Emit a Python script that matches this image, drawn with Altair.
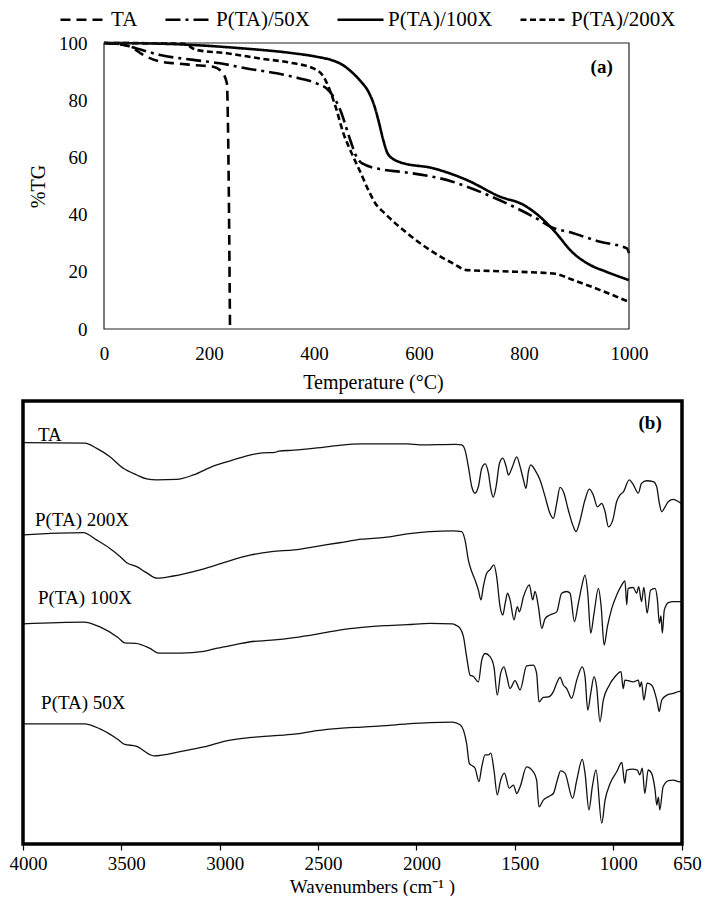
import altair as alt
import pandas as pd

# ---------------- Panel (a): TGA ----------------
series_a = ["TA", "P(TA)/50X", "P(TA)/100X", "P(TA)/200X"]

ta_temp = [0, 25, 50, 75, 107, 140, 170, 208, 224, 234, 237, 240]
ta_tg = [100, 99.6, 98.7, 95.8, 93.5, 92.8, 92.3, 91.7, 90.0, 86.0, 60.0, 0]

p50_temp = [0, 30, 62, 107, 170, 221, 272, 329, 373, 405, 430, 450, 469, 481, 491,
            535, 564, 664, 691, 754, 830, 850, 894, 945, 996, 1000]
p50_tg = [100, 99.6, 98.1, 95.8, 94.1, 92.9, 91.1, 89.4, 87.6, 85.9, 83.0, 76.6, 66.1,
          60.2, 58.0, 55.6, 55.0, 51.5, 49.8, 45.0, 38.0, 35.8, 33.5, 30.5, 28.2, 26.5]

p100_temp = [0, 100, 170, 265, 361, 405, 437, 455, 469, 488, 505, 515, 524, 532, 540,
             552, 564, 627, 691, 754, 799, 830, 856, 894, 926, 957, 1000]
p100_tg = [100, 99.8, 99.3, 98.1, 96.4, 95.2, 93.8, 92.3, 90.3, 86.8, 82.5, 78.0, 72.0,
           66.0, 61.5, 59.3, 58.3, 56.2, 52.1, 46.3, 43.4, 39.3, 34.6, 26.5, 22.4, 20.0, 17.1]

p200_temp = [0, 150, 176, 234, 297, 361, 399, 418, 430, 443, 456, 469, 488, 505, 517,
             535, 578, 621, 664, 691, 754, 856, 894, 945, 1000]
p200_tg = [100, 99.8, 97.6, 96.4, 94.6, 92.9, 91.1, 88.3, 83.6, 76.6, 68.4, 62.6, 55.0,
           48.0, 43.9, 40.4, 33.4, 27.6, 23.0, 20.6, 20.2, 19.4, 17.1, 13.6, 9.5]

temp_ticks = [0, 200, 400, 600, 800, 1000]
tg_ticks = [0, 20, 40, 60, 80, 100]

# ---------------- Panel (b): FTIR ----------------
ta_wn = [4000, 3685, 3625, 3558, 3490, 3422, 3371, 3320, 3219, 3134,
         3033, 2931, 2846, 2782, 2720, 2700, 2621, 2506, 2392, 2277,
         2047, 1982, 1800, 1770, 1753, 1736, 1719, 1702, 1685, 1668,
         1651, 1634, 1621, 1609, 1595, 1578, 1561, 1544, 1532, 1515,
         1490, 1473, 1456, 1443, 1431, 1419, 1397, 1372, 1346, 1321,
         1304, 1287, 1270, 1250, 1228, 1202, 1189, 1172, 1143, 1121,
         1101, 1080, 1058, 1041, 1024, 1002, 982, 965, 948, 918,
         900, 872, 856, 830, 796, 779, 765, 753, 736, 719,
         694, 669, 650]
ta_t = [90.6, 90.5, 89.3, 87.4, 84.8, 83.3, 82.4, 82.2, 82.3, 83.3,
        85.3, 86.7, 87.8, 88.3, 88.4, 88.7, 88.9, 89.4, 90.0, 90.3,
        90.3, 90.1, 90.2, 90.1, 88.9, 85.2, 80.7, 79.2, 80.7, 84.8,
        85.8, 83.7, 79.9, 78.3, 80.7, 85.9, 87.1, 85.2, 83.3, 84.8,
        87.4, 85.2, 82.2, 80.3, 84.0, 85.6, 84.4, 82.2, 78.4, 74.6,
        73.5, 76.9, 80.5, 79.2, 75.4, 71.6, 70.5, 72.4, 77.7, 80.1,
        78.8, 76.1, 76.9, 75.0, 71.6, 73.1, 77.3, 78.8, 79.5, 82.2,
        81.3, 79.2, 81.4, 82.0, 81.8, 80.7, 76.9, 75.0, 76.1, 77.3,
        77.8, 77.3, 76.7]

p200_wn = [4000, 3693, 3625, 3558, 3507, 3473, 3422, 3371, 3320, 3236,
           3100, 3015, 2846, 2736, 2621, 2506, 2392, 2277, 2162, 2047,
           1932, 1817, 1770, 1753, 1736, 1719, 1702, 1685, 1672, 1660,
           1643, 1626, 1606, 1592, 1575, 1561, 1549, 1537, 1524, 1504,
           1487, 1477, 1456, 1426, 1409, 1397, 1380, 1363, 1346, 1321,
           1287, 1262, 1236, 1219, 1197, 1177, 1160, 1143, 1129, 1114,
           1097, 1075, 1061, 1046, 1029, 1007, 982, 956, 940, 931,
           924, 898, 881, 870, 856, 844, 827, 810, 787, 775,
           765, 757, 750, 740, 719, 694, 660, 650]
p200_t = [69.8, 70.3, 68.6, 66.7, 64.9, 63.5, 62.6, 61.2, 60.0, 60.5,
          61.9, 63.0, 65.2, 66.0, 66.4, 67.2, 68.0, 68.8, 69.2, 70.0,
          70.5, 70.7, 70.5, 68.6, 64.1, 61.5, 59.6, 57.3, 55.1, 58.1,
          61.1, 61.9, 63.0, 60.3, 53.6, 51.7, 54.3, 56.6, 55.1, 50.6,
          53.6, 52.4, 55.8, 58.5, 55.1, 57.0, 53.6, 48.7, 50.9, 51.7,
          52.4, 56.6, 57.0, 56.6, 50.2, 54.3, 58.1, 60.7, 56.6, 47.6,
          52.1, 57.7, 53.6, 44.9, 49.1, 53.2, 56.2, 58.5, 59.4, 54.0,
          57.7, 57.9, 56.6, 58.1, 54.7, 57.9, 52.1, 57.3, 57.7, 55.1,
          49.8, 51.5, 47.6, 52.8, 54.5, 54.7, 54.7, 54.7]

p100_wn = [4000, 3690, 3609, 3517, 3483, 3426, 3357, 3311, 3196, 3081,
           3012, 2920, 2851, 2736, 2621, 2506, 2392, 2277, 2162, 2047,
           1932, 1817, 1800, 1778, 1761, 1745, 1727, 1710, 1685, 1668,
           1651, 1626, 1606, 1589, 1572, 1555, 1540, 1524, 1499, 1473,
           1440, 1406, 1389, 1377, 1355, 1329, 1304, 1287, 1270, 1253,
           1236, 1211, 1185, 1157, 1143, 1129, 1114, 1097, 1084, 1067,
           1050, 1024, 990, 960, 949, 940, 898, 872, 864, 856,
           844, 827, 805, 787, 775, 766, 753, 727, 694, 669,
           650]
p100_t = [49.7, 50.1, 49.0, 46.6, 45.4, 45.3, 44.2, 43.1, 43.1, 43.5,
          44.2, 45.0, 45.6, 46.0, 46.6, 47.4, 48.3, 48.9, 49.3, 49.5,
          49.8, 49.7, 49.4, 48.7, 46.8, 42.3, 38.1, 37.8, 36.6, 41.5,
          43.0, 42.3, 40.0, 33.6, 38.5, 40.0, 37.7, 35.1, 36.9, 34.8,
          40.2, 40.4, 38.5, 32.1, 33.1, 33.2, 34.4, 36.3, 37.6, 35.9,
          35.1, 32.9, 37.0, 40.0, 37.8, 30.2, 34.0, 37.8, 35.5, 27.6,
          32.5, 35.5, 37.8, 38.9, 35.1, 37.0, 36.6, 37.0, 35.5, 36.6,
          32.5, 36.3, 35.9, 34.0, 31.8, 29.9, 32.5, 33.6, 34.0, 34.4,
          34.5]

p50_wn = [4000, 3690, 3609, 3517, 3483, 3426, 3334, 3196, 3081, 2966,
          2851, 2736, 2621, 2506, 2392, 2277, 2162, 2047, 1932, 1817,
          1778, 1761, 1745, 1731, 1714, 1702, 1682, 1668, 1651, 1634,
          1622, 1606, 1589, 1572, 1553, 1528, 1507, 1490, 1473, 1440,
          1406, 1389, 1377, 1355, 1329, 1304, 1284, 1267, 1245, 1206,
          1185, 1157, 1143, 1123, 1106, 1087, 1058, 1041, 1015, 982,
          956, 941, 931, 902, 877, 865, 852, 839, 822, 805,
          787, 778, 770, 763, 746, 719, 694, 669, 650]
p50_t = [27.1, 27.1, 26.0, 23.6, 22.5, 22.1, 19.9, 20.9, 21.9, 23.3,
         24.0, 24.4, 24.8, 25.6, 26.1, 26.4, 26.7, 27.1, 27.4, 27.5,
         26.9, 25.7, 22.7, 18.2, 17.6, 17.1, 14.1, 17.4, 20.1, 20.1,
         20.5, 16.7, 11.1, 14.4, 16.0, 12.6, 13.3, 11.4, 12.9, 17.4,
         16.3, 14.4, 8.4, 9.9, 10.7, 11.4, 14.4, 16.5, 16.0, 10.3,
         14.4, 19.1, 16.0, 7.7, 12.9, 16.7, 4.7, 9.9, 13.7, 16.3,
         18.4, 13.7, 16.7, 16.9, 16.7, 15.6, 17.1, 11.4, 16.7, 16.0,
         12.2, 8.8, 10.6, 7.7, 12.9, 14.3, 14.4, 14.1, 14.0]

wn_ticks = [4000, 3500, 3000, 2500, 2000, 1500, 1000, 650]

spec_labels = ["TA", "P(TA) 200X", "P(TA) 100X", "P(TA) 50X"]
spec_label_wn = [3924, 3939, 3924, 3908]
spec_label_v = [92.3, 73.1, 55.5, 31.8]

# ---------------- build tables ----------------
rows_a = []
for name, xs, ys in [("TA", ta_temp, ta_tg), ("P(TA)/50X", p50_temp, p50_tg),
                     ("P(TA)/100X", p100_temp, p100_tg), ("P(TA)/200X", p200_temp, p200_tg)]:
    assert len(xs) == len(ys), name
    for i, (x, y) in enumerate(zip(xs, ys)):
        rows_a.append({"series": name, "T": x, "TG": y, "i": i})
df_a = pd.DataFrame(rows_a)

rows_b = []
for name, xs, ys in [("TA", ta_wn, ta_t), ("200X", p200_wn, p200_t),
                     ("100X", p100_wn, p100_t), ("50X", p50_wn, p50_t)]:
    assert len(xs) == len(ys), name
    for x, y in zip(xs, ys):
        rows_b.append({"series": name, "wn": x, "v": y})
df_b = pd.DataFrame(rows_b)

CW, CH = 694, 888
FONT = "Liberation Serif"

xa = alt.Scale(domain=[0, 1000], range=[96, 621], nice=False, zero=False)
ya = alt.Scale(domain=[0, 100], range=[321, 35], nice=False, zero=False)
xb = alt.Scale(domain=[4000, 650], range=[15, 674], nice=False, zero=False)
yb = alt.Scale(domain=[0, 100], range=[836, 393], nice=False, zero=False)

axis_ax = alt.Axis(orient="bottom", offset=321 - CH, values=temp_ticks, format="d",
                   ticks=False, domain=False, grid=False, labelFontSize=19,
                   labelPadding=15, labelFlush=False, labelOverlap=False,
                   labelColor="black", title="Temperature (°C)", titleFontSize=20,
                   titleFontWeight="normal", titleColor="black", titleX=365, titleY=53,
                   titleBaseline="middle", titleAlign="center")
axis_ay = alt.Axis(orient="left", offset=-96, values=tg_ticks, format="d",
                   ticks=False, domain=False, grid=False, labelFontSize=19,
                   labelPadding=17, labelColor="black", title="%TG", titleFontSize=20,
                   titleFontWeight="normal", titleColor="black", titleX=-66, titleY=178,
                   titleBaseline="middle", titleAlign="center", titleAngle=270)
axis_bx = alt.Axis(orient="bottom", offset=836 - CH, values=wn_ticks, format="d",
                   ticks=True, tickSize=6, tickWidth=1.2, tickColor="black",
                   domain=False, grid=False, labelFontSize=19, labelPadding=4,
                   labelOffset=5, labelFlush=False, labelOverlap=False, labelColor="black",
                   title="Wavenumbers (cm⁻¹ )", titleFontSize=19, titleFontWeight="normal",
                   titleColor="black", titleX=364, titleY=42, titleBaseline="middle",
                   titleAlign="center")

legend_a = alt.Legend(orient="none", legendX=51, legendY=-13, direction="horizontal",
                      title=None, symbolType="stroke", symbolSize=2116,
                      symbolStrokeWidth=2.5, symbolStrokeColor="black",
                      labelFontSize=21, labelFont=FONT, labelColor="black",
                      labelOffset=3, columnPadding=22, padding=0, labelLimit=300)


def xA(field):
    return alt.X(field, scale=xa, axis=axis_ax)


def yA(field):
    return alt.Y(field, scale=ya, axis=axis_ay)


def xB(field):
    return alt.X(field, scale=xb, axis=axis_bx)


def yB(field):
    return alt.Y(field, scale=yb, axis=None)


lines_a = alt.Chart(df_a).mark_line(color="black", strokeWidth=2.6, interpolate="monotone").encode(
    x=xA("T:Q"),
    y=yA("TG:Q"),
    strokeDash=alt.StrokeDash("series:N",
                              scale=alt.Scale(domain=series_a,
                                              range=[[10, 6], [15, 5, 3, 5], [1, 0], [6, 3.5]]),
                              legend=legend_a),
    order=alt.Order("i:Q"),
)

frame_a = alt.Chart(pd.DataFrame({"T": [0], "T2": [1000], "TG": [0], "TG2": [100]})).mark_rect(
    filled=False, stroke="#222", strokeWidth=1.2).encode(
    x=xA("T:Q"), x2="T2:Q", y=yA("TG:Q"), y2="TG2:Q")

tag_a = alt.Chart(pd.DataFrame({"T": [948], "TG": [91.6], "t": ["(a)"]})).mark_text(
    fontWeight="bold", fontSize=19, align="center", baseline="middle", color="black").encode(
    x=xA("T:Q"), y=yA("TG:Q"), text="t:N")

group_a = alt.layer(lines_a, frame_a, tag_a)

lines_b = alt.Chart(df_b).mark_line(color="#111", strokeWidth=1.3, interpolate="monotone").encode(
    x=xB("wn:Q"),
    y=yB("v:Q"),
    detail="series:N",
    order=alt.Order("wn:Q", sort="descending"),
)

frame_b = alt.Chart(pd.DataFrame({"wn": [4000], "wn2": [650], "v": [0], "v2": [100]})).mark_rect(
    filled=False, stroke="black", strokeWidth=3.5).encode(
    x=xB("wn:Q"), x2="wn2:Q", y=yB("v:Q"), y2="v2:Q")

labels_b = alt.Chart(pd.DataFrame({"wn": spec_label_wn, "v": spec_label_v, "t": spec_labels})).mark_text(
    fontSize=19, align="left", baseline="middle", color="black").encode(
    x=xB("wn:Q"), y=yB("v:Q"), text="t:N")

tag_b = alt.Chart(pd.DataFrame({"wn": [812], "v": [95.0], "t": ["(b)"]})).mark_text(
    fontWeight="bold", fontSize=19, align="center", baseline="middle", color="black").encode(
    x=xB("wn:Q"), y=yB("v:Q"), text="t:N")

group_b = alt.layer(lines_b, frame_b, labels_b, tag_b)

chart = alt.layer(group_a, group_b).resolve_scale(
    x="independent", y="independent"
).resolve_axis(
    x="independent", y="independent"
).properties(
    width=CW, height=CH, autosize=alt.AutoSizeParams(type="none"), padding=0
).configure(font=FONT).configure_view(strokeWidth=0)

chart.save("out.html", embed_options={"renderer": "svg", "actions": False})
